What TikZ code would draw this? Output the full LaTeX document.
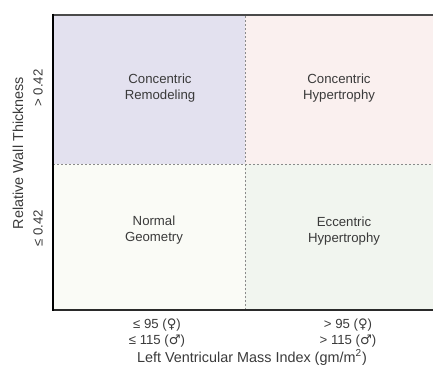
\documentclass[tikz,border=0pt]{standalone}
\usepackage{fontspec}
\setmainfont{Liberation Sans}
\newfontfamily\symfont{DejaVu Sans}
\usepackage{xcolor}
\definecolor{Remodel}{HTML}{E3E1EF}
\definecolor{ConcHyp}{HTML}{FAF0EF}
\definecolor{Normal}{HTML}{FAFBF6}
\definecolor{EccHyp}{HTML}{F1F5EF}
\definecolor{Ink}{HTML}{3A3A3A}
\definecolor{Frame}{HTML}{2A2A2A}
\definecolor{Divider}{HTML}{8A8A8A}

\begin{document}
\begin{tikzpicture}[x=0.5pt, y=0.5pt,
  lbl/.style = {text=Ink, align=center, inner sep=0pt,
                font=\fontsize{6.6}{7.8}\selectfont},
  divider/.style = {Divider, line width=0.5pt, dash pattern=on 1.2pt off 0.8pt}]
\useasboundingbox (0,0) rectangle (433,372);
\clip (0,0) rectangle (433,372);

% Corners
\coordinate (xmm) at ( 53, 62);
\coordinate (xpm) at (445, 62);
\coordinate (xpp) at (445,357);
\coordinate (xmp) at ( 53,357);
% Dividers
\coordinate (xm0) at ( 53,208);
\coordinate (xp0) at (445,208);
\coordinate (x0m) at (245, 62);
\coordinate (x0p) at (245,357);
\coordinate (x00) at (245,208);

% Quadrants
\fill[Remodel] (xm0) rectangle (x0p);
\fill[ConcHyp] (x00) rectangle (xpp);
\fill[Normal]  (xmm) rectangle (x00);
\fill[EccHyp]  (x0m) rectangle (xp0);

\draw[divider] (xm0)--(xp0);
\draw[divider] (x0m)--(x0p);

\draw[Frame!85, line width=1.4pt] (xmp)--(xpp);
\draw[Frame, line width=1.4pt] (xmm)--(xpm);
\draw[black, line width=1.2pt] ([yshift=0.7pt]xmp)--([yshift=-0.7pt]xmm);

% Cell labels
\node[lbl] (cr) at (160,284) {Concentric\\Remodeling};
\node[lbl] (ch) at (339,284) {Concentric\\Hypertrophy};
\node[lbl] (ng) at (154,142) {Normal\\Geometry};
\node[lbl] (eh) at (344,141) {Eccentric\\Hypertrophy};

% Bottom
\node[lbl] (lo) at (157,39) {≤ 95 ({\symfont ♀})\\≤ 115 ({\symfont ♂})};
\node[lbl] (hi) at (348,39) {> 95 ({\symfont ♀})\\> 115 ({\symfont ♂})};
\node[lbl, font=\fontsize{7.2}{8}\selectfont] (xlab) at (252,15) {Left Ventricular Mass Index (gm/m\textsuperscript{2})};

% Left
\node[lbl, rotate=90, font=\fontsize{7.2}{8}\selectfont] (ylab) at (18,219) {Relative Wall Thickness};
\node[lbl, rotate=90] (ghi) at (38,284) {> 0.42};
\node[lbl, rotate=90] (glo) at (38,144) {≤ 0.42};

\end{tikzpicture}
\end{document}
